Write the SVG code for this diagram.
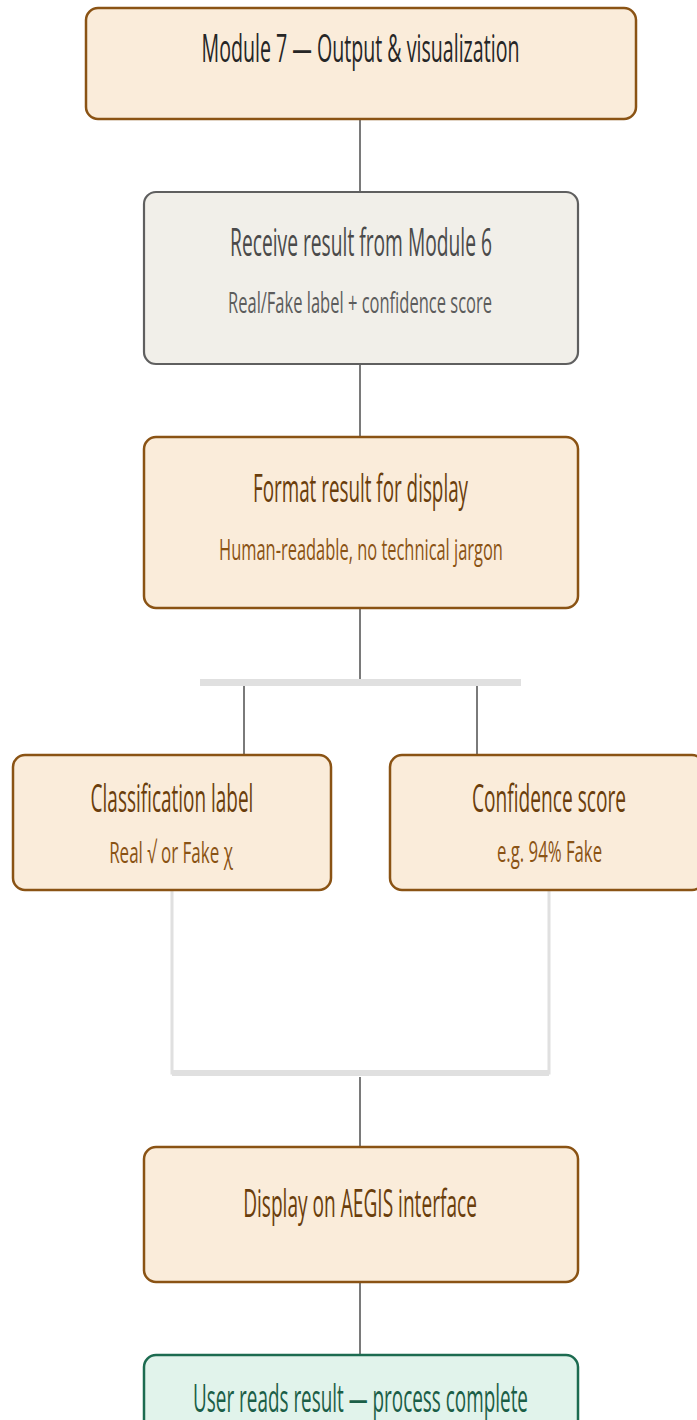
<svg xmlns="http://www.w3.org/2000/svg" width="697" height="1420" viewBox="0 0 697 1420">
  <defs>
    <style>
      .warm { fill: #FAECDA; stroke: #8A5314; stroke-width: 2.5; }
      .grey { fill: #F1EFE9; stroke: #5F5F5F; stroke-width: 2.2; }
      .done { fill: #E1F3EB; stroke: #1C6B50; stroke-width: 2.5; }
      text { font-family: "Open Sans", "Noto Sans", "Liberation Sans", sans-serif; text-anchor: middle; }
      .t { font-size: 38px; }
      .s { font-size: 30px; }
      .dark { fill: #262626; }
      .gt { fill: #4A4A4A; }
      .gs { fill: #5C5C5C; }
      .bt { fill: #6A3E0C; }
      .bs { fill: #8A5314; }
      .gr { fill: #1B5E47; }
      .link { stroke: #7A7A7A; stroke-width: 2; fill: none; }
      .bus { stroke: #E0E0E0; fill: none; }
    </style>
  </defs>

  <!-- connectors -->
  <g id="connectors">
    <line class="link" x1="360" y1="119" x2="360" y2="192"/>
    <line class="link" x1="360" y1="364" x2="360" y2="437"/>
    <line class="link" x1="360" y1="608" x2="360" y2="679"/>
    <line class="bus" x1="200" y1="682.5" x2="521" y2="682.5" stroke-width="7"/>
    <line class="link" x1="244" y1="686" x2="244" y2="755"/>
    <line class="link" x1="477" y1="686" x2="477" y2="755"/>
    <path class="bus" d="M172 890 V1073 H549 V890" stroke-width="3"/>
    <line class="bus" x1="172" y1="1073" x2="549" y2="1073" stroke-width="6"/>
    <line class="link" x1="360" y1="1077" x2="360" y2="1147"/>
    <line class="link" x1="360" y1="1282" x2="360" y2="1355"/>
  </g>

  <!-- module heading; labels use a narrowed face via horizontal scale -->
  <g id="module7">
    <rect class="warm" x="86" y="8" width="550" height="111" rx="12"/>
    <text class="t dark" transform="translate(360.5 62) scale(0.55 1)" textLength="578" lengthAdjust="spacingAndGlyphs">Module 7 — Output &amp; visualization</text>
  </g>

  <g id="receive">
    <rect class="grey" x="144" y="192" width="434" height="172" rx="12"/>
    <text class="t gt" transform="translate(361 256) scale(0.55 1)" textLength="476" lengthAdjust="spacingAndGlyphs">Receive result from Module 6</text>
    <text class="s gs" transform="translate(360 313) scale(0.55 1)" textLength="480" lengthAdjust="spacingAndGlyphs">Real/Fake label + confidence score</text>
  </g>

  <g id="format">
    <rect class="warm" x="144" y="437" width="434" height="171" rx="12"/>
    <text class="t bt" transform="translate(360.5 502) scale(0.55 1)" textLength="391" lengthAdjust="spacingAndGlyphs">Format result for display</text>
    <text class="s bs" transform="translate(361 560) scale(0.55 1)" textLength="516" lengthAdjust="spacingAndGlyphs">Human-readable, no technical jargon</text>
  </g>

  <g id="classification">
    <rect class="warm" x="13" y="755" width="318" height="135" rx="12"/>
    <text class="t bt" transform="translate(172 812) scale(0.55 1)" textLength="296" lengthAdjust="spacingAndGlyphs">Classification label</text>
    <text class="s bs" transform="translate(171 863) scale(0.55 1)" textLength="225" lengthAdjust="spacingAndGlyphs">Real √ or Fake χ</text>
  </g>

  <g id="confidence">
    <rect class="warm" x="390" y="755" width="314" height="135" rx="12"/>
    <text class="t bt" transform="translate(549 812) scale(0.55 1)" textLength="280" lengthAdjust="spacingAndGlyphs">Confidence score</text>
    <text class="s bs" transform="translate(549.5 862) scale(0.55 1)" textLength="191" lengthAdjust="spacingAndGlyphs">e.g. 94% Fake</text>
  </g>

  <g id="display">
    <rect class="warm" x="144" y="1147" width="434" height="135" rx="12"/>
    <text class="t bt" transform="translate(360 1217) scale(0.55 1)" textLength="425" lengthAdjust="spacingAndGlyphs">Display on AEGIS interface</text>
  </g>

  <g id="complete">
    <rect class="done" x="144" y="1355" width="434" height="120" rx="12"/>
    <text class="t gr" transform="translate(360.5 1412) scale(0.55 1)" textLength="609" lengthAdjust="spacingAndGlyphs">User reads result — process complete</text>
  </g>
</svg>
